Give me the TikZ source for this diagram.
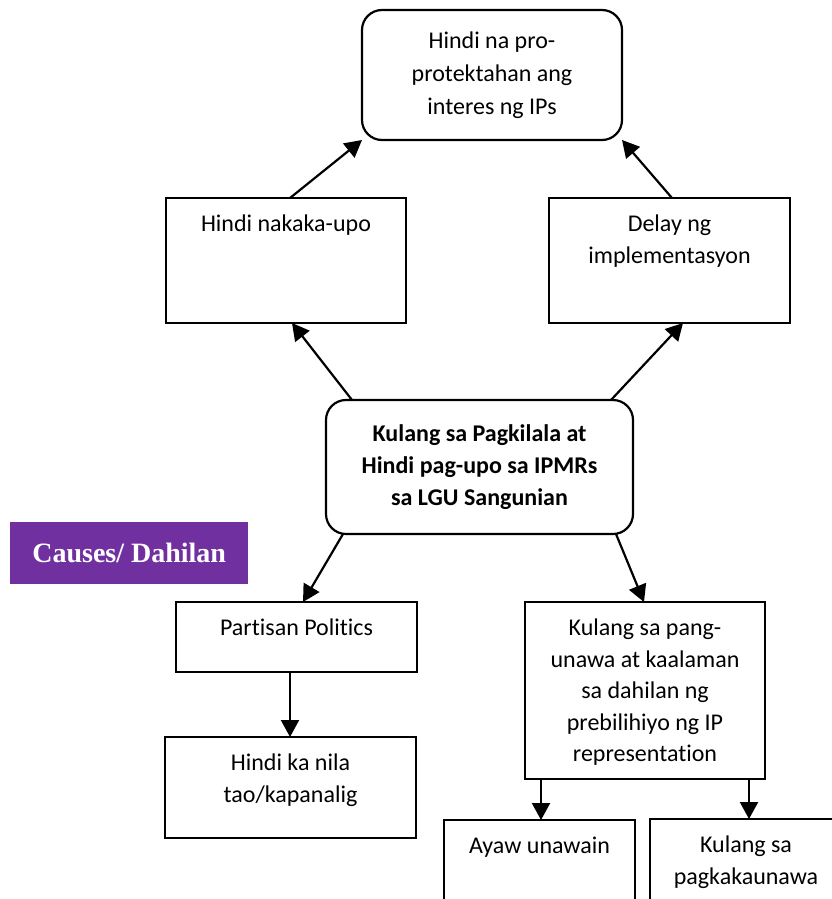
\documentclass[tikz,border=0pt]{standalone}
\usepackage{fontspec}
\setmainfont{Carlito}[Ligatures=NoCommon]
\newfontfamily\causesfont{Liberation Serif}
\usetikzlibrary{arrows.meta,calc}
\definecolor{causes}{HTML}{7030A0}
\begin{document}
\begin{tikzpicture}[x=1pt,y=-1pt,
  box/.style={draw, line width=2.2pt, inner sep=0pt, outer sep=0pt, anchor=north west},
  rbox/.style={box, rounded corners=20pt},
  txt/.style={font=\fontsize{24}{31.5}\selectfont, align=center},
  lbl/.style={label={[txt, anchor=north, yshift=-17pt, inner sep=0pt]north:#1}},
  arr/.style={line width=2.2pt, -{Triangle[length=17pt,width=18pt]}}]
\useasboundingbox (0,0) rectangle (832,899);
\fill[white] (0,0) rectangle (832,899);
\clip (0,0) rectangle (832,899);

\node[rbox, minimum width=260pt, minimum height=130pt, align=center,
      font=\fontsize{24}{33}\selectfont] (top) at (362,10)
      {Hindi na pro-\\protektahan ang\\interes ng IPs};
\node[box, minimum width=240pt, minimum height=125pt, lbl={Hindi nakaka-upo}] (lft) at (166,198) {};
\node[box, minimum width=241pt, minimum height=125pt, lbl={Delay ng\\implementasyon}] (rgt) at (549,198) {};
\node[rbox, minimum width=307pt, minimum height=134pt, align=center,
      font=\fontsize{24}{32}\selectfont\bfseries] (mid) at (326,400)
      {Kulang sa Pagkilala at\\Hindi pag-upo sa IPMRs\\sa LGU Sangunian};
\node[anchor=north west, fill=causes, minimum width=238pt, minimum height=62pt,
      inner sep=0pt, text=white, font=\causesfont\bfseries\fontsize{28}{30}\selectfont]
      (cause) at (10,522) {\raisebox{-2pt}{Causes/ Dahilan}};
\node[box, minimum width=241pt, minimum height=70pt, lbl={Partisan Politics}] (part) at (176,602) {};
\node[box, minimum width=240pt, minimum height=177pt,
      lbl={Kulang sa pang-\\unawa at kaalaman\\sa dahilan ng\\prebilihiyo ng IP\\representation}] (kul) at (525,602) {};
\node[box, minimum width=251pt, minimum height=101pt, lbl={Hindi ka nila\\tao/kapanalig}] (hk) at (165,737) {};
\node[box, minimum width=191pt, minimum height=120pt, lbl={Ayaw unawain}] (ayaw) at (444,820) {};
\node[box, minimum width=192pt, minimum height=120pt, lbl={Kulang sa\\pagkakaunawa}] (kul2) at (650,819) {};

\draw[arr] ($(lft.north west)+(124,0)$) -- (top.south west);
\draw[arr] ($(rgt.north west)+(123,0)$) -- (top.south east);
\draw[arr] ($(mid.north west)+(26,0)$) -- ($(lft.south west)+(126,0)$);
\draw[arr] ($(mid.north west)+(285,0)$) -- ($(rgt.south west)+(134,0)$);
\draw[arr] ($(mid.south west)+(17,0)$) -- ($(part.north west)+(127,0)$);
\draw[arr] ($(mid.south west)+(290,0)$) -- ($(kul.north west)+(119,0)$);
\draw[arr] ($(part.south west)+(114,0)$) -- ($(hk.north west)+(125,0)$);
\draw[arr] ($(kul.south west)+(16,0)$) -- ($(ayaw.north west)+(97,0)$);
\draw[arr] ($(kul.south west)+(224,0)$) -- ($(kul2.north west)+(99,0)$);
\end{tikzpicture}
\end{document}
